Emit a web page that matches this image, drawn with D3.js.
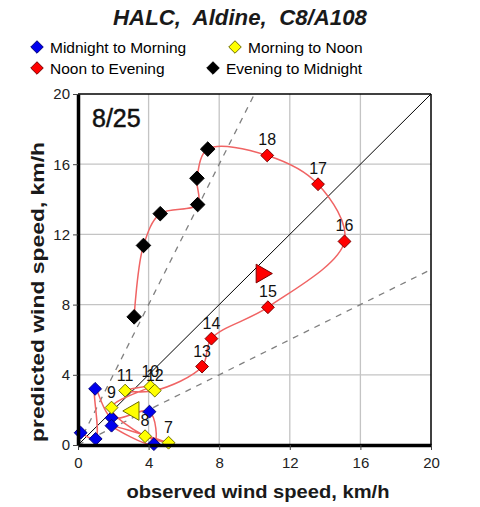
<!DOCTYPE html>
<html>
<head>
<meta charset="utf-8">
<script src="https://cdn.jsdelivr.net/npm/d3@7"></script>
<style>
  body { margin: 0; background: #fff; }
  svg { font-family: "Liberation Sans", Arial, sans-serif; }
</style>
</head>
<body>
<script>
// hourly observed vs predicted wind speed, km/h
const hours = [0, 1, 2, 3, 4, 5, 6, 7, 8, 9, 10, 11, 12, 13, 14, 15, 16, 17, 18, 19, 20, 21, 22, 23, 24];
const observed = [0.15, 1.0, 0.97, 1.9, 4.05, 4.3, 1.9, 5.13, 3.8, 1.9, 4.1, 2.67, 4.35,
                  7.03, 7.56, 10.76, 15.1, 13.6, 10.72, 7.35, 6.74, 6.78, 4.66, 3.71, 3.18];
const predicted = [0.7, 0.35, 3.2, 1.55, 1.9, 0.05, 1.1, 0.13, 0.5, 2.13, 3.33, 3.1, 3.1,
                   4.47, 6.06, 7.85, 11.6, 14.86, 16.5, 16.86, 15.2, 13.7, 13.18, 11.37, 7.3];
const periods = ["Midnight to Morning", "Morning to Noon", "Noon to Evening", "Evening to Midnight"];
const periodFill = ["#0000ee", "#ffff00", "#ff0000", "#000000"];
const periodStroke = ["#00007a", "#6e6e00", "#7a0000", "#000000"];
const labelledHours = [7, 8, 9, 10, 11, 12, 13, 14, 15, 16, 17, 18];
// direction markers: [obs, pred, pointing, period]
const arrows = [[3.15, 1.94, "left", 1], [10.4, 9.77, "right", 2]];
const ticks = [0, 4, 8, 12, 16, 20];

let margin = {top: 94, left: 78, bottom: 62, right: 49};
let width = 480 - margin.left - margin.right,
    height = 507 - margin.top - margin.bottom;

function periodOf(h) {
  if (h <= 6) return 0;
  if (h <= 12) return 1;
  if (h <= 18) return 2;
  return 3;
}

const points = hours.map((h, i) => ({h: h, x: observed[i], y: predicted[i], p: periodOf(h)}));

const root = d3.select("body").append("svg")
  .attr("width", 480).attr("height", 507);

const svg = root.append("g")
  .attr("transform", `translate(${margin.left}, ${margin.top})`);

const x = d3.scaleLinear().domain([0, 20]).range([0, width]);
const y = d3.scaleLinear().domain([0, 20]).range([height, 0]);

// title
root.append("text")
  .attr("x", 240).attr("y", 25)
  .attr("text-anchor", "middle")
  .attr("textLength", 254).attr("lengthAdjust", "spacingAndGlyphs")
  .style("font-size", "22px").style("font-weight", "bold").style("font-style", "italic")
  .style("fill", "#1a1a1a")
  .attr("xml:space", "preserve")
  .text("HALC,  Aldine,  C8/A108");

// legend
const legendPos = [[37, 47], [235, 47], [37, 68], [213, 68]];
const diamond = d3.symbol().type(d3.symbolDiamond2);
const leg = root.append("g").attr("class", "legend");
periods.forEach((name, i) => {
  const g = leg.append("g").attr("transform", `translate(${legendPos[i][0]}, ${legendPos[i][1]})`);
  g.append("path").attr("d", diamond.size(100)())
    .attr("fill", periodFill[i]).attr("stroke", periodStroke[i]).attr("stroke-width", 1);
  g.append("text").attr("x", 13).attr("y", 5.5)
    .style("font-size", "15.5px").style("fill", "#000").text(name);
});

// grid
svg.append("g").selectAll("line.vg")
  .data(ticks.slice(1, -1)).enter().append("line")
  .attr("x1", d => x(d)).attr("x2", d => x(d))
  .attr("y1", 0).attr("y2", height)
  .attr("stroke", "#c4c4c4").attr("stroke-width", 1.3);
svg.append("g").selectAll("line.hg")
  .data(ticks.slice(1, -1)).enter().append("line")
  .attr("y1", d => y(d)).attr("y2", d => y(d))
  .attr("x1", 0).attr("x2", width)
  .attr("stroke", "#c4c4c4").attr("stroke-width", 1.3);

// reference lines
svg.append("line")
  .attr("x1", x(0)).attr("y1", y(0)).attr("x2", x(20)).attr("y2", y(20))
  .attr("stroke", "#000").attr("stroke-width", 1);
svg.append("line")
  .attr("x1", x(0)).attr("y1", y(0)).attr("x2", x(10)).attr("y2", y(20))
  .attr("stroke", "#808080").attr("stroke-width", 1.3).attr("stroke-dasharray", "6,6");
svg.append("line")
  .attr("x1", x(0)).attr("y1", y(0)).attr("x2", x(20)).attr("y2", y(10))
  .attr("stroke", "#808080").attr("stroke-width", 1.3).attr("stroke-dasharray", "6,6");

// hourly trace
const line = d3.line().x(d => x(d.x)).y(d => y(d.y)).curve(d3.curveCatmullRom.alpha(0.5));
svg.append("path").datum(points)
  .attr("d", line)
  .attr("fill", "none").attr("stroke", "#f06464").attr("stroke-width", 1.5);

// markers
svg.append("g").selectAll("path")
  .data(points).enter().append("path")
  .attr("transform", d => `translate(${x(d.x)}, ${y(d.y)})`)
  .attr("d", d => diamond.size(d.p === 3 ? 135 : 105)())
  .attr("fill", d => periodFill[d.p])
  .attr("stroke", d => periodStroke[d.p]).attr("stroke-width", 1);

// direction triangles
svg.append("g").selectAll("path")
  .data(arrows).enter().append("path")
  .attr("transform", d => `translate(${x(d[0])}, ${y(d[1])}) rotate(${d[2] === "right" ? 90 : -90})`)
  .attr("d", d3.symbol().type(d3.symbolTriangle2).size(250)())
  .attr("fill", d => periodFill[d[3]])
  .attr("stroke", d => periodStroke[d[3]]).attr("stroke-width", 1);

// hour labels
svg.append("g").selectAll("text")
  .data(points.filter(d => labelledHours.includes(d.h))).enter().append("text")
  .attr("x", d => x(d.x)).attr("y", d => y(d.y) - 10)
  .attr("text-anchor", "middle")
  .style("font-size", "16px").style("fill", "#111")
  .text(d => d.h);

// date tag
svg.append("text")
  .attr("x", 14).attr("y", 33)
  .style("font-size", "25px").style("fill", "#111")
  .style("stroke", "#111").style("stroke-width", 0.5)
  .text("8/25");

// axes
const xAxis = svg.append("g")
  .attr("transform", `translate(0, ${height})`)
  .call(d3.axisBottom(x).tickValues(ticks).tickSize(5).tickSizeOuter(0));
const yAxis = svg.append("g")
  .call(d3.axisLeft(y).tickValues(ticks).tickSize(5).tickSizeOuter(0));
[xAxis, yAxis].forEach(a => {
  a.select(".domain").attr("stroke", "#000").attr("stroke-width", 3.5);
  a.selectAll(".tick line").attr("stroke", "#444");
  a.selectAll(".tick text").style("font-size", "15px").style("fill", "#222")
    .style("font-family", "'Liberation Sans', Arial, sans-serif");
});
xAxis.selectAll(".tick text").attr("dy", "1.0em");
yAxis.selectAll(".tick text").attr("x", -8);

// top and right border
svg.append("line").attr("x1", 0).attr("x2", width).attr("y1", 0).attr("y2", 0)
  .attr("stroke", "#000").attr("stroke-width", 1.5);
svg.append("line").attr("x1", width).attr("x2", width).attr("y1", 0).attr("y2", height)
  .attr("stroke", "#000").attr("stroke-width", 1.5);

// axis titles
root.append("text")
  .attr("x", 258).attr("y", 498)
  .attr("text-anchor", "middle")
  .attr("textLength", 263).attr("lengthAdjust", "spacingAndGlyphs")
  .style("font-size", "18px").style("font-weight", "bold").style("fill", "#1a1a1a")
  .text("observed wind speed, km/h");
root.append("text")
  .attr("transform", `translate(44, 292) rotate(-90)`)
  .attr("text-anchor", "middle")
  .attr("textLength", 300).attr("lengthAdjust", "spacingAndGlyphs")
  .style("font-size", "18px").style("font-weight", "bold").style("fill", "#1a1a1a")
  .text("predicted wind speed, km/h");
</script>
</body>
</html>
